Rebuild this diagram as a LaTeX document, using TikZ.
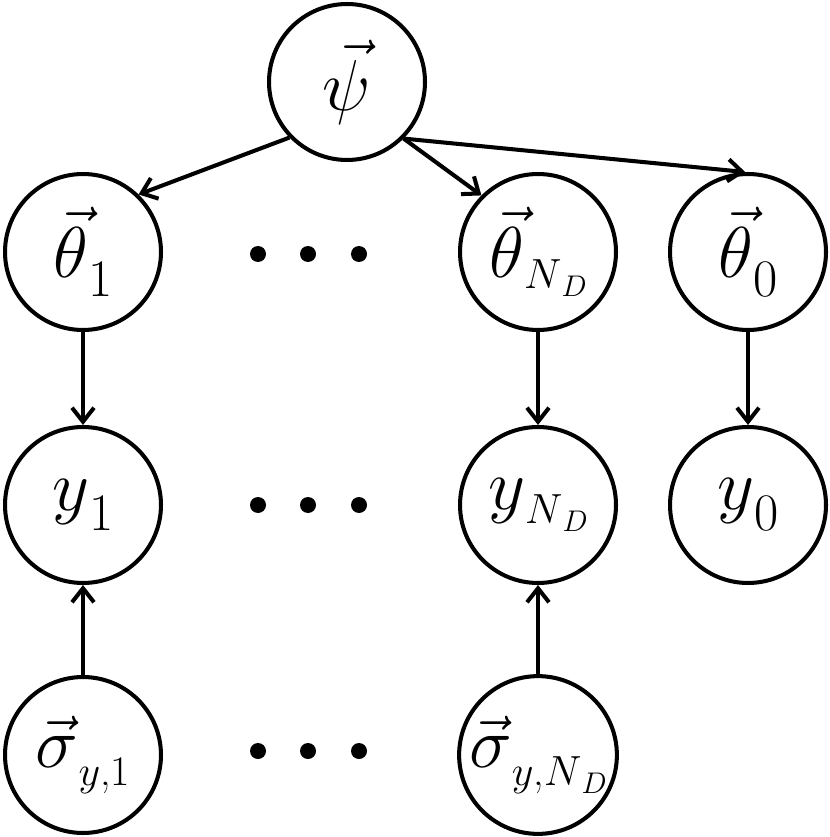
\RequirePackage{fix-cm}
\documentclass[tikz,border=0pt]{standalone}
\usetikzlibrary{arrows.meta}
\newcommand{\lbig}{\fontsize{41}{45}\selectfont}
\newcommand{\lsub}{\fontsize{30}{34}\selectfont}
\newcommand{\lsm}{\fontsize{24}{28}\selectfont}
\newcommand{\lxs}{\fontsize{17}{20}\selectfont}
\newcommand{\NDsub}{{\lsm$N$}\raisebox{-5pt}{\lxs$D$}}
\tikzset{
  var/.style={draw, circle, line width=2.3pt, minimum size=3.12cm, inner sep=0pt, fill=white},
  dotx/.style={circle, fill=black, minimum size=0.32cm, inner sep=0pt},
  link/.style={line width=2.3pt, -{Straight Barb[length=0.28cm,width=0.44cm]}}
}

\begin{document}
\begin{tikzpicture}[x=0.02cm, y=-0.02cm]
  \useasboundingbox (0,0) rectangle (830,837);
  % hyperparameter
  \node[var] (psi) at (347,82) {\lbig$\vec{\psi}$};
  % parameters
  \node[var] (theta1) at (83,252) {{\lbig$\vec{\theta}$}\raisebox{-11pt}{\lsub 1}};
  \node[var] (thetaND) at (538,252) {{\lbig$\vec{\theta}$}\raisebox{-6pt}{\NDsub}};
  \node[var] (theta0) at (748,252) {{\lbig$\vec{\theta}$}\raisebox{-11pt}{\lsub 0}};
  % data
  \node[var] (y1) at (83,505) {{\lbig$y$}\raisebox{-11pt}{\lsub 1}};
  \node[var] (yND) at (538,505) {{\lbig$y$}\raisebox{-8pt}{\NDsub}};
  \node[var] (y0) at (748,505) {{\lbig$y$}\raisebox{-12pt}{\lsub 0}};
  % errors
  \node[var] (sigma1) at (83,755) {{\lbig$\vec{\sigma}$}\raisebox{-10pt}{\lsm$y$,1}};
  \node[var] (sigmaND) at (538,755) {{\lbig$\vec{\sigma}$}\raisebox{-10pt}{{\lsm$y$,}\NDsub}};
  % ellipses
  \foreach \r/\yy in {a/254,b/505,c/751}
    \foreach \c/\xx in {1/258,2/308,3/359}
      \node[dotx] (dot\r\c) at (\xx,\yy) {};
  % edges
  \draw[link] (psi.-136) -- (theta1.46);
  \draw[link] (psi.-45) -- (thetaND.135);
  \draw[link] (psi.-45) -- (theta0.92);
  \draw[link] (theta1) -- (y1);
  \draw[link] (thetaND) -- (yND);
  \draw[link] (theta0) -- (y0);
  \draw[link] (sigma1) -- (y1);
  \draw[link] (sigmaND) -- (yND);
\end{tikzpicture}
\end{document}
